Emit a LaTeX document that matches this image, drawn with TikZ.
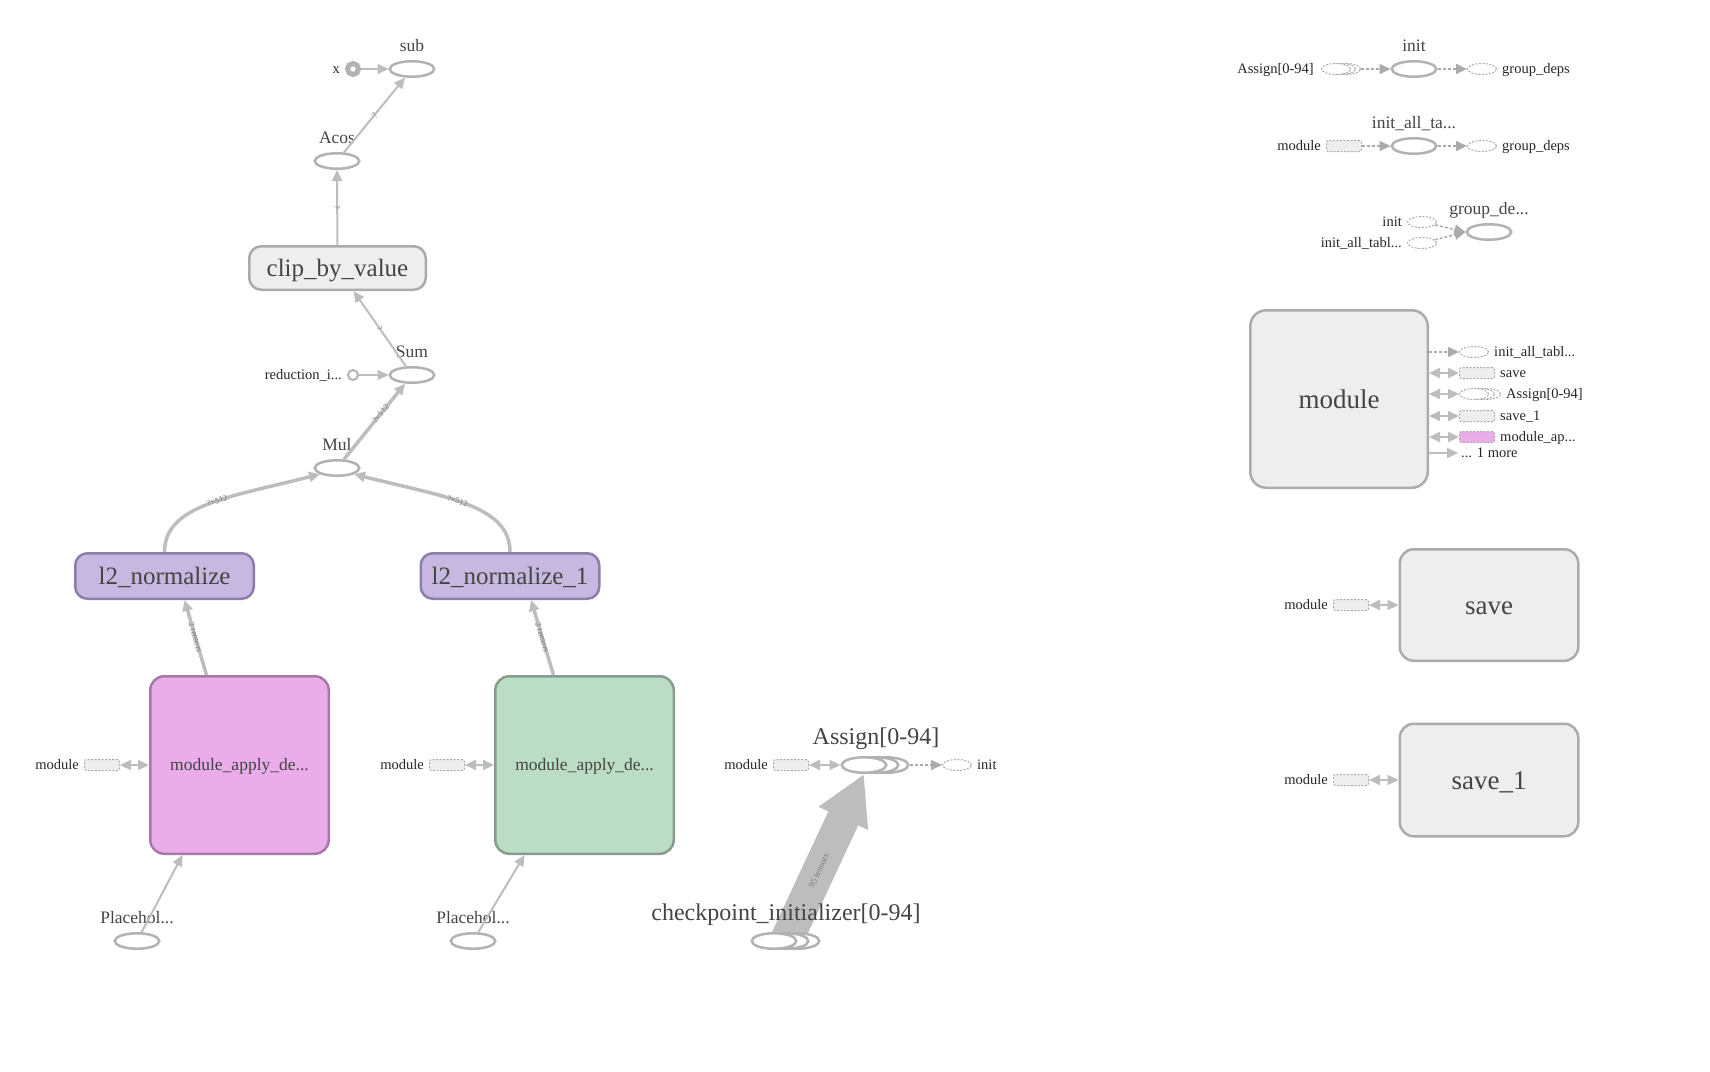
\documentclass[tikz,border=0pt]{standalone}
\usepackage{fontspec}
\setmainfont{Liberation Serif}
\usepackage{tikz}
\usetikzlibrary{arrows.meta, calc, positioning, shapes.geometric, backgrounds}

\definecolor{edgegray}{HTML}{BDBDBD}
\definecolor{opgray}{HTML}{B2B2B2}
\definecolor{ghostgray}{HTML}{ABABAB}
\definecolor{metafill}{HTML}{EEEEEE}
\definecolor{metadraw}{HTML}{ABABAB}
\definecolor{l2fill}{HTML}{C6B8E1}
\definecolor{l2draw}{HTML}{8E7CAA}
\definecolor{pinkfill}{HTML}{EBADEA}
\definecolor{pinkdraw}{HTML}{A678A8}
\definecolor{greenfill}{HTML}{BCDDC5}
\definecolor{greendraw}{HTML}{879C8C}
\definecolor{labeltxt}{HTML}{444444}
\definecolor{edgetxtgray}{HTML}{7A7A7A}

\begin{document}
\begin{tikzpicture}[
    x=1pt, y=-1pt, % one unit = one pixel, y runs downwards
    >={Triangle[length=11pt, width=10pt]},
    op/.style={ellipse, draw=opgray, line width=2.5pt, fill=white,
               minimum width=44.5pt, minimum height=15.5pt, inner sep=0pt},
    ghostop/.style={ellipse, draw=ghostgray, line width=1pt, dash pattern=on 2pt off 1.5pt,
               fill=white, minimum width=29pt, minimum height=11pt, inner sep=0pt},
    ghostgrp/.style={rectangle, rounded corners=2pt, draw=ghostgray, line width=1pt,
               dash pattern=on 2pt off 1.5pt, fill=metafill,
               minimum width=35pt, minimum height=11pt, inner sep=0pt},
    grp/.style={rectangle, rounded corners=14pt, line width=2.5pt, draw=metadraw,
               fill=metafill, text=labeltxt, inner sep=0pt},
    constop/.style={circle, draw=opgray, line width=2pt, fill=white, minimum size=10pt, inner sep=0pt},
    varop/.style={circle, draw=opgray, line width=5pt, fill=white, minimum size=11pt, inner sep=0pt},
    % fonts, with line boxes like the browser's (0.89em up, 0.22em down)
    font27/.style={font=\fontsize{27}{30}\selectfont, text height=24pt, text depth=5.9pt},
    font25/.style={font=\fontsize{25}{28}\selectfont, text height=22.2pt, text depth=5.5pt},
    font17/.style={font=\fontsize{17.5}{20}\selectfont, text height=15.6pt, text depth=3.8pt},
    optxt/.style={font17, text=labeltxt, inner sep=0pt},
    bigtxt/.style={font=\fontsize{24}{28}\selectfont, text height=21.4pt, text depth=5.3pt,
               text=labeltxt, inner sep=0pt},
    smalltxt/.style={font=\fontsize{14.5}{16}\selectfont, text height=12.9pt, text depth=3.2pt,
               text=black!85, inner sep=0pt},
    edgetxt/.style={font=\fontsize{8.5}{9}\selectfont, text=edgetxtgray, sloped, inner sep=1pt},
    flow/.style={draw=edgegray, line width=2pt, ->},
    ctrl/.style={draw=ghostgray, line width=1.5pt, dash pattern=on 3pt off 2pt, ->},
    ref/.style={draw=edgegray, line width=2pt, <->}
]
    \useasboundingbox (0,0) rectangle (1710,1071);

    % --- Left graph ---
    \node[op] (sub) at (412,69) {};
    \node[optxt, above=5pt of sub] (subl) {sub};
    \node[varop] (xin) at (353,69) {};
    \node[smalltxt, left=5pt of xin] (xl) {x};
    \node[op] (acos) at (337,161) {};
    \node[optxt, above=5pt of acos] (acosl) {Acos};
    \node[grp, font25, rounded corners=12pt, minimum width=176.5pt,
          minimum height=43.5pt] (clip) at (337.5,268) {clip\_by\_value};
    \node[op] (sum) at (412,375) {};
    \node[optxt, above=5pt of sum] (suml) {Sum};
    \node[constop] (redi) at (353,375) {};
    \node[smalltxt, left=5pt of redi] (redil) {reduction\_i...};
    \node[op] (mul) at (337,468) {};
    \node[optxt, above=5pt of mul] (mull) {Mul};

    \node[grp, font25, fill=l2fill, draw=l2draw, rounded corners=12pt, minimum width=178.5pt,
          minimum height=45.5pt] (l2a) at (164.5,576) {l2\_normalize};
    \node[grp, font25, fill=l2fill, draw=l2draw, rounded corners=12pt, minimum width=178.5pt,
          minimum height=45.5pt] (l2b) at (510,576) {l2\_normalize\_1};

    \node[grp, font17, fill=pinkfill, draw=pinkdraw, minimum width=178.5pt,
          minimum height=177.5pt] (mapa) at (239.5,765) {module\_apply\_de...};
    \node[grp, font17, fill=greenfill, draw=greendraw, minimum width=178.5pt,
          minimum height=177.5pt] (mapb) at (584.5,765) {module\_apply\_de...};
    \node[ghostgrp] (mg1) at (102,765) {};
    \node[smalltxt, left=5pt of mg1] (mg1l) {module};
    \node[ghostgrp] (mg2) at (447,765) {};
    \node[smalltxt, left=5pt of mg2] (mg2l) {module};

    \node[op] (ph1) at (137,941) {};
    \node[optxt, above=5pt of ph1] (ph1l) {Placehol...};
    \node[op] (ph2) at (473,941) {};
    \node[optxt, above=5pt of ph2] (ph2l) {Placehol...};

    \draw[flow] (xin) -- (sub);
    \draw[flow] (acos) -- node[edgetxt] {?} (sub);
    \draw[flow] (clip) -- node[edgetxt] {?} (acos);
    \draw[flow] (sum) -- node[edgetxt] {?} (clip);
    \draw[flow] (redi) -- (sum);
    \draw[flow, line width=3.5pt] (mul) -- node[edgetxt, pos=0.6] {?×512} (sum);
    \draw[flow, line width=3.5pt] (l2a.north) .. controls (164.5,505) and (230,497) .. (mul.200)
        node[edgetxt, pos=0.55] {?×512};
    \draw[flow, line width=3.5pt] (l2b.north) .. controls (510,505) and (445,497) .. (mul.-20)
        node[edgetxt, pos=0.55] {?×512};
    \draw[flow, line width=3.5pt] ([xshift=-33pt]mapa.north) -- node[edgetxt] {2 tensors} ([xshift=20pt]l2a.south);
    \draw[flow, line width=3.5pt] ([xshift=-31pt]mapb.north) -- node[edgetxt] {2 tensors} ([xshift=21pt]l2b.south);
    \draw[ref] (mg1) -- (mapa);
    \draw[ref] (mg2) -- (mapb);
    \draw[flow] (ph1) -- ([xshift=-57pt]mapa.south);
    \draw[flow] (ph2) -- ([xshift=-60pt]mapb.south);

    % --- Assign / checkpoint ---
    \node[op] (asg3) at (886,765) {};
    \node[op] (asg2) at (876,765) {};
    \node[op] (asg) at (864,765) {};
    \node[bigtxt, above=6pt of asg2] (asgl) {Assign[0-94]};
    \node[ghostgrp] (mg3) at (791,765) {};
    \node[smalltxt, left=5pt of mg3] (mg3l) {module};
    \node[ghostop] (initg) at (957,765) {};
    \node[smalltxt, right=5pt of initg] (initgl) {init};
    \draw[ref] (mg3) -- (asg);
    \draw[ctrl] (asg3) -- (initg);

    \node[op] (ck3) at (797,941) {};
    \node[op] (ck2) at (786,941) {};
    \node[op] (ck) at (774,941) {};
    \node[bigtxt, above=6pt of ck2] (ckl) {checkpoint\_initializer[0-94]};
    \begin{scope}[on background layer]
        \draw[draw=edgegray, line width=33pt, -{Triangle[length=49pt, width=51pt]}]
            (ck2.center) -- node[edgetxt, pos=0.42, font=\fontsize{9}{10}\selectfont] {95 tensors} (asg.south);
    \end{scope}

    % --- Right column: init, init_all_ta..., group_de... ---
    \node[op] (init) at (1414,69) {};
    \node[optxt, above=5pt of init] (initl) {init};
    \node[ghostop] (ag3) at (1346,69) {};
    \node[ghostop] (ag2) at (1341,69) {};
    \node[ghostop] (ag) at (1336,69) {};
    \node[smalltxt, left=7pt of ag] (agl) {Assign[0-94]};
    \node[ghostop] (gd1) at (1482,69) {};
    \node[smalltxt, right=5pt of gd1] (gd1l) {group\_deps};
    \draw[ctrl] (ag3) -- (init);
    \draw[ctrl] (init) -- (gd1);

    \node[op] (initall) at (1414,146) {};
    \node[optxt, above=5pt of initall] (initalll) {init\_all\_ta...};
    \node[ghostgrp] (mg4) at (1344,146) {};
    \node[smalltxt, left=5pt of mg4] (mg4l) {module};
    \node[ghostop] (gd2) at (1482,146) {};
    \node[smalltxt, right=5pt of gd2] (gd2l) {group\_deps};
    \draw[ctrl] (mg4) -- (initall);
    \draw[ctrl] (initall) -- (gd2);

    \node[op] (gdeps) at (1489,232) {};
    \node[optxt, above=5pt of gdeps] (gdepsl) {group\_de...};
    \node[ghostop] (gi1) at (1422,222) {};
    \node[smalltxt, left=5pt of gi1] (gi1l) {init};
    \node[ghostop] (gi2) at (1422,243) {};
    \node[smalltxt, left=5pt of gi2] (gi2l) {init\_all\_tabl...};
    \draw[ctrl] (gi1) -- (gdeps.west);
    \draw[ctrl] (gi2) -- (gdeps.west);

    % --- module ---
    \node[grp, font27, rounded corners=16pt, minimum width=177.5pt,
          minimum height=177.5pt] (mod) at (1339,399) {module};
    \node[ghostop] (li1) at (1474,352) {};
    \node[smalltxt, right=5pt of li1] (li1l) {init\_all\_tabl...};
    \node[ghostgrp] (li2) at (1477,373) {};
    \node[smalltxt, right=5pt of li2] (li2l) {save};
    \node[ghostop] (li3c) at (1486,394) {};
    \node[ghostop] (li3b) at (1480,394) {};
    \node[ghostop] (li3) at (1474,394) {};
    \node[smalltxt, right=5pt of li3c] (li3l) {Assign[0-94]};
    \node[ghostgrp] (li4) at (1477,416) {};
    \node[smalltxt, right=5pt of li4] (li4l) {save\_1};
    \node[ghostgrp, fill=pinkfill] (li5) at (1477,437) {};
    \node[smalltxt, right=5pt of li5] (li5l) {module\_ap...};
    \node[smalltxt, anchor=west] (li6) at (1461,453) {... 1 more};
    \draw[ctrl] (mod.east |- li1) -- (li1);
    \draw[ref] (mod.east |- li2) -- (li2);
    \draw[ref] (mod.east |- li3) -- (li3);
    \draw[ref] (mod.east |- li4) -- (li4);
    \draw[ref] (mod.east |- li5) -- (li5);
    \draw[flow] (mod.east |- li6.west) -- ([xshift=-3pt]li6.west);

    % --- save, save_1 ---
    \node[grp, font27, minimum width=178.5pt, minimum height=111.5pt] (save) at (1489,605) {save};
    \node[ghostgrp] (mg5) at (1351,605) {};
    \node[smalltxt, left=5pt of mg5] (mg5l) {module};
    \draw[ref] (mg5) -- (save);

    \node[grp, font27, minimum width=178.5pt, minimum height=112.5pt] (save1) at (1489,780) {save\_1};
    \node[ghostgrp] (mg6) at (1351,780) {};
    \node[smalltxt, left=5pt of mg6] (mg6l) {module};
    \draw[ref] (mg6) -- (save1);

\end{tikzpicture}
\end{document}
